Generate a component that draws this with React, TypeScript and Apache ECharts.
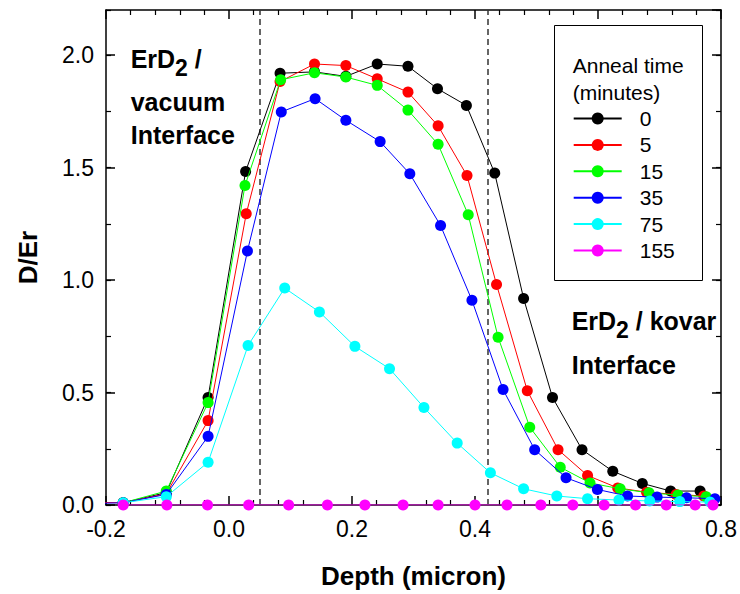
import { useEffect, useRef } from 'react';
import * as echarts from 'echarts';

const FONT = '"Liberation Sans", Arial, Helvetica, sans-serif';

// Anneal times (minutes) and their marker/line colours
const annealTimes = ['0', '5', '15', '35', '75', '155'];
const seriesColors = ['#000000', '#ff0000', '#00ff00', '#0000ff', '#00ffff', '#ff00ff'];

// 0 min
const depthT0 = [-0.172, -0.102, -0.034, 0.027, 0.083, 0.139, 0.19, 0.241, 0.291, 0.339, 0.386, 0.432, 0.479, 0.526, 0.574, 0.624, 0.672, 0.718, 0.766];
const ratioT0 = [0.01, 0.055, 0.478, 1.482, 1.919, 1.925, 1.905, 1.96, 1.95, 1.85, 1.776, 1.475, 0.918, 0.478, 0.246, 0.15, 0.096, 0.062, 0.062];

// 5 min
const depthT5 = [-0.24, -0.172, -0.102, -0.034, 0.028, 0.083, 0.139, 0.19, 0.241, 0.291, 0.34, 0.387, 0.435, 0.485, 0.535, 0.583, 0.632, 0.679, 0.727, 0.772];
const ratioT5 = [0.012, 0.01, 0.05, 0.375, 1.294, 1.882, 1.96, 1.953, 1.894, 1.835, 1.685, 1.464, 0.98, 0.508, 0.246, 0.131, 0.076, 0.057, 0.047, 0.04];

// 15 min
const depthT15 = [-0.172, -0.102, -0.034, 0.026, 0.084, 0.139, 0.19, 0.241, 0.291, 0.34, 0.389, 0.4375, 0.489, 0.5386, 0.587, 0.636, 0.683, 0.73, 0.776];
const ratioT15 = [0.01, 0.062, 0.455, 1.42, 1.89, 1.921, 1.902, 1.865, 1.755, 1.603, 1.29, 0.746, 0.346, 0.168, 0.098, 0.072, 0.054, 0.044, 0.037];

// 35 min
const depthT35 = [-0.24, -0.172, -0.102, -0.034, 0.03, 0.085, 0.14, 0.19, 0.2457, 0.294, 0.344, 0.395, 0.4456, 0.497, 0.548, 0.599, 0.648, 0.696, 0.744, 0.79];
const ratioT35 = [0.006, 0.01, 0.047, 0.305, 1.129, 1.747, 1.806, 1.71, 1.615, 1.472, 1.242, 0.91, 0.513, 0.246, 0.121, 0.069, 0.04, 0.035, 0.032, 0.028];

// 75 min
const depthT75 = [-0.172, -0.102, -0.034, 0.031, 0.0906, 0.147, 0.2047, 0.261, 0.317, 0.371, 0.425, 0.479, 0.533, 0.583, 0.634, 0.684, 0.733, 0.782];
const ratioT75 = [0.01, 0.037, 0.19, 0.709, 0.964, 0.858, 0.705, 0.606, 0.433, 0.275, 0.143, 0.072, 0.04, 0.028, 0.022, 0.018, 0.015, 0.013];

// 155 min
const depthT155 = [-0.172, -0.101, -0.035, 0.032, 0.097, 0.16, 0.221, 0.283, 0.34, 0.4, 0.452, 0.507, 0.559, 0.61, 0.661, 0.711, 0.758, 0.787];
const ratioT155 = [0, 0, 0, 0, 0, 0, 0, 0, 0, 0, 0, 0, 0, 0, 0, 0, 0, 0];

const depths = [depthT0, depthT5, depthT15, depthT35, depthT75, depthT155];
const ratios = [ratioT0, ratioT5, ratioT15, ratioT35, ratioT75, ratioT155];

// Interface positions (micron)
const interfaceDepths = [0.05, 0.42];

// Axis ranges and tick spacing
const depthRange = [-0.2, 0.8];
const depthStep = 0.2;
const ratioRange = [0, 2.2];
const ratioStep = 0.5;
const ratioMinorStep = 0.25;

const black = '#000000';

function isMajorRatio(v: number) {
  const k = v / ratioStep;
  return Math.abs(k - Math.round(k)) < 1e-6;
}

function boldText(text: string, x: number, y: number, size = 25) {
  return {
    type: 'text',
    x,
    y,
    silent: true,
    z: 20,
    style: {
      text,
      fill: black,
      font: `bold ${size}px ${FONT}`,
      verticalAlign: 'middle',
      align: 'left',
    },
  };
}

function plainText(text: string, x: number, y: number, size = 21) {
  return {
    type: 'text',
    x,
    y,
    silent: true,
    z: 20,
    style: {
      text,
      fill: black,
      font: `${size}px ${FONT}`,
      verticalAlign: 'middle',
      align: 'left',
    },
  };
}

export default function App() {
  const ref = useRef<HTMLDivElement>(null);

  useEffect(() => {
    if (!ref.current) return;
    const chart = echarts.init(ref.current, null, { renderer: 'svg' });

    const tickLine = { color: black, width: 1.5 };
    const minorLine = { color: black, width: 1.2 };
    const frameLine = { color: black, width: 1.5 };

    const xBase = {
      type: 'value',
      min: depthRange[0],
      max: depthRange[1],
      interval: depthStep,
      splitLine: { show: false },
      axisLine: { show: true, onZero: false, lineStyle: frameLine },
      axisTick: { show: true, inside: true, length: 9, lineStyle: tickLine },
      minorTick: { show: true, splitNumber: 5, length: 5, lineStyle: minorLine },
    };

    // major (0.5) and minor (0.25) tick axes on both sides of the frame
    const yAxisAt = (position: string, step: number, withLine: boolean) => ({
      type: 'value',
      position,
      min: ratioRange[0],
      max: ratioRange[1],
      interval: step,
      splitLine: { show: false },
      axisLine: { show: withLine, onZero: false, lineStyle: frameLine },
      axisTick: {
        show: true,
        inside: true,
        length: step === ratioStep ? 9 : 5,
        lineStyle: step === ratioStep ? tickLine : minorLine,
      },
      axisLabel: { show: false },
    });

    const series: any[] = annealTimes.map((name, i) => ({
      type: 'line',
      name,
      data: depths[i].map((d, j) => [d, ratios[i][j]]),
      xAxisIndex: 0,
      yAxisIndex: 0,
      symbol: 'circle',
      symbolSize: 11,
      showSymbol: true,
      clip: true,
      z: 3 + i,
      itemStyle: { color: seriesColors[i] },
      lineStyle: { color: seriesColors[i], width: 1 },
      emphasis: { disabled: true },
    }));

    series[0].markLine = {
      silent: true,
      symbol: 'none',
      label: { show: false },
      lineStyle: { color: '#333333', type: [6, 4], width: 1.5 },
      data: interfaceDepths.map((d) => ({ xAxis: d })),
      z: 2,
    };

    chart.setOption({
      animation: false,
      backgroundColor: '#ffffff',
      textStyle: { fontFamily: FONT },
      grid: { left: 106, right: 18, top: 10, bottom: 85.5, containLabel: false },
      legend: {
        orient: 'vertical',
        left: 572.7,
        top: 108,
        padding: 0,
        itemWidth: 48,
        itemHeight: 15,
        itemGap: 5.4,
        data: annealTimes,
        selectedMode: false,
        textStyle: { fontSize: 21, color: black, fontFamily: FONT, padding: [0, 0, 0, 13] },
      },
      xAxis: [
        {
          ...xBase,
          position: 'bottom',
          axisLabel: {
            color: black,
            fontSize: 23,
            margin: 12,
            fontFamily: FONT,
            formatter: (v: number) => v.toFixed(1),
          },
          name: 'Depth (micron)',
          nameLocation: 'middle',
          nameGap: 58,
          nameTextStyle: { fontSize: 26, fontWeight: 'bold', color: black, fontFamily: FONT },
        },
        {
          ...xBase,
          position: 'top',
          axisLabel: { show: false },
        },
      ],
      yAxis: [
        {
          ...yAxisAt('left', ratioStep, true),
          axisLabel: {
            show: true,
            color: black,
            fontSize: 23,
            margin: 12,
            fontFamily: FONT,
            showMaxLabel: false,
            formatter: (v: number) => (isMajorRatio(v) ? v.toFixed(1) : ''),
          },
          name: 'D/Er',
          nameLocation: 'middle',
          nameGap: 65,
          nameTextStyle: { fontSize: 26, fontWeight: 'bold', color: black, fontFamily: FONT },
        },
        yAxisAt('left', ratioMinorStep, false),
        yAxisAt('right', ratioStep, true),
        yAxisAt('right', ratioMinorStep, false),
      ],
      graphic: [
        {
          type: 'rect',
          silent: true,
          shape: { x: 554.5, y: 25.5, width: 148, height: 255 },
          style: { fill: 'none', stroke: black, lineWidth: 1 },
          z: 10,
        },
        plainText('Anneal time', 572.7, 65),
        plainText('(minutes)', 572.7, 92),
        // ErD2 / vacuum interface
        boldText('ErD', 130.7, 59),
        boldText('2', 175.1, 68, 23),
        boldText(' /', 187.8, 59),
        boldText('vacuum', 130.7, 102),
        boldText('Interface', 130.7, 135),
        // ErD2 / kovar interface
        boldText('ErD', 571.7, 321),
        boldText('2', 616.1, 330, 23),
        boldText(' / kovar', 628.8, 321),
        boldText('Interface', 571.7, 365),
      ],
      series,
    });

    return () => chart.dispose();
  }, []);

  return (
    <div
      ref={ref}
      style={{ position: 'fixed', left: 0, top: 0, width: 740, height: 594, background: '#fff' }}
    />
  );
}
